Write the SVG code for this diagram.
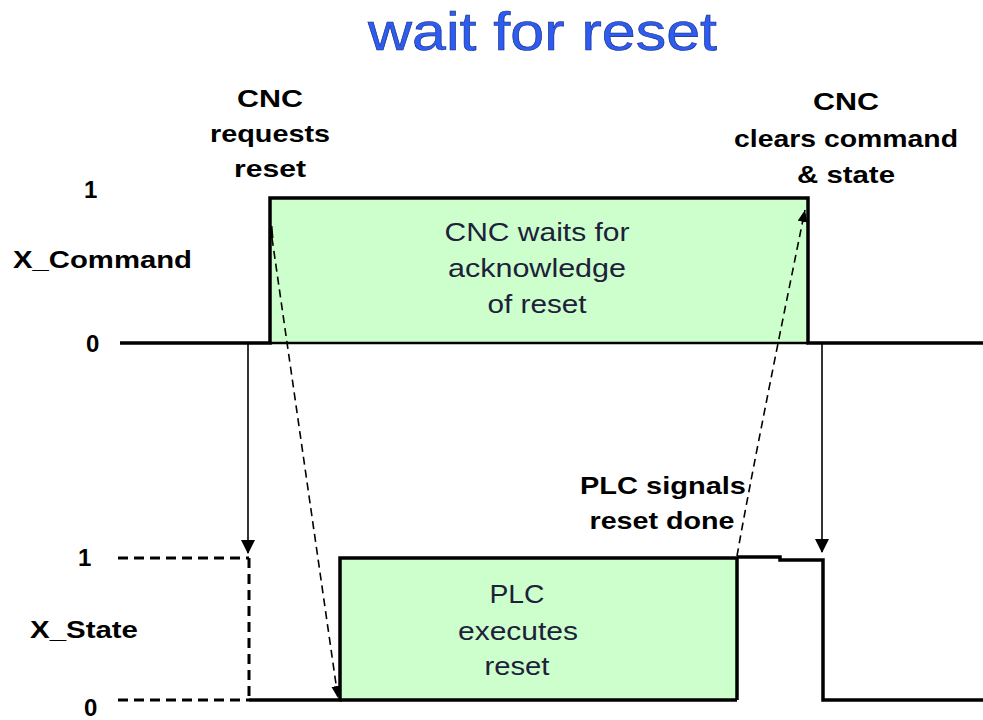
<svg xmlns="http://www.w3.org/2000/svg" width="983" height="720" viewBox="0 0 983 720">
<defs>
<style>
.title{font-family:"Liberation Sans",Arial,sans-serif;font-size:53px;fill:#2d5cf0;stroke:#1a2a80;stroke-width:0.6px}
.lbl{font-family:"Liberation Sans",Arial,sans-serif;font-size:24px;font-weight:bold;fill:#000}
.box{font-family:"Liberation Sans",Arial,sans-serif;font-size:26px;fill:#20203a}
.wave{fill:none;stroke:#000;stroke-width:3.5;stroke-linejoin:miter}
.fill{fill:#ccffcc;stroke:none}
.lvl{fill:none;stroke:#000;stroke-width:3;stroke-dasharray:10 6}
.arr{fill:none;stroke:#000;stroke-width:1.6}
.darr{fill:none;stroke:#000;stroke-width:1.6;stroke-dasharray:8 5}
</style>
<marker id="ah" markerUnits="userSpaceOnUse" markerWidth="14" markerHeight="14" viewBox="0 0 14 14" refX="13" refY="7" orient="auto">
<path d="M0,0 L14,7 L0,14 Z" fill="#000"/>
</marker>
<marker id="ahs" markerUnits="userSpaceOnUse" markerWidth="12" markerHeight="10" viewBox="0 0 12 10" refX="12" refY="5" orient="auto">
<path d="M0,0 L12,5 L0,10 Z" fill="#000"/>
</marker>
</defs>
<rect width="983" height="720" fill="#fff"/>

<g id="title">
<text class="title" x="368" y="50" textLength="349" lengthAdjust="spacingAndGlyphs">wait for reset</text>
</g>

<g id="axis-labels">
<text class="lbl" x="84" y="198">1</text>
<text class="lbl" x="13" y="268" textLength="179" lengthAdjust="spacingAndGlyphs">X_Command</text>
<text class="lbl" x="86" y="352">0</text>
<text class="lbl" x="78" y="566">1</text>
<text class="lbl" x="30" y="638" textLength="108" lengthAdjust="spacingAndGlyphs">X_State</text>
<text class="lbl" x="84" y="716">0</text>
</g>

<g id="x-command-wave">
<rect class="fill" x="270" y="198" width="538" height="145"/>
<path class="wave" d="M120,343 L270,343 L270,198 L808,198 L808,343 L983,343"/>
<line x1="270" y1="343" x2="808" y2="343" stroke="#000" stroke-width="2.5"/>
</g>

<g id="x-state-wave">
<rect class="fill" x="340" y="558" width="397" height="142"/>
<path class="wave" d="M249,700 L340,700 L340,558 L737,558 L737,700"/>
<path class="wave" d="M737,557 L780,557 L780,560 L823,560 L823,700 L983,700"/>
<line x1="340" y1="700" x2="737" y2="700" stroke="#000" stroke-width="3.5"/>
<path class="lvl" d="M118,558 L249,558"/>
<path class="lvl" d="M118,700 L249,700"/>
<path class="lvl" d="M249,558 L249,700"/>
</g>

<g id="box-cnc-waits">
<text class="box" text-anchor="middle" x="537" y="241" textLength="185" lengthAdjust="spacingAndGlyphs">CNC waits for</text>
<text class="box" text-anchor="middle" x="537" y="277" textLength="178" lengthAdjust="spacingAndGlyphs">acknowledge</text>
<text class="box" text-anchor="middle" x="537" y="313" textLength="99" lengthAdjust="spacingAndGlyphs">of reset</text>
</g>

<g id="box-plc-executes">
<text class="box" text-anchor="middle" x="517" y="603" textLength="55" lengthAdjust="spacingAndGlyphs">PLC</text>
<text class="box" text-anchor="middle" x="518" y="640" textLength="120" lengthAdjust="spacingAndGlyphs">executes</text>
<text class="box" text-anchor="middle" x="517" y="675" textLength="65" lengthAdjust="spacingAndGlyphs">reset</text>
</g>

<g id="label-cnc-requests">
<text class="lbl" text-anchor="middle" x="270" y="107" textLength="66" lengthAdjust="spacingAndGlyphs">CNC</text>
<text class="lbl" text-anchor="middle" x="270" y="142" textLength="120" lengthAdjust="spacingAndGlyphs">requests</text>
<text class="lbl" text-anchor="middle" x="270" y="177" textLength="72" lengthAdjust="spacingAndGlyphs">reset</text>
</g>

<g id="label-cnc-clears">
<text class="lbl" text-anchor="middle" x="846" y="110" textLength="66" lengthAdjust="spacingAndGlyphs">CNC</text>
<text class="lbl" text-anchor="middle" x="846" y="147" textLength="224" lengthAdjust="spacingAndGlyphs">clears command</text>
<text class="lbl" text-anchor="middle" x="846" y="183" textLength="98" lengthAdjust="spacingAndGlyphs">&amp; state</text>
</g>

<g id="label-plc-signals">
<text class="lbl" text-anchor="middle" x="663" y="494" textLength="166" lengthAdjust="spacingAndGlyphs">PLC signals</text>
<text class="lbl" text-anchor="middle" x="662" y="529" textLength="145" lengthAdjust="spacingAndGlyphs">reset done</text>
</g>

<g id="connectors">
<line class="arr" x1="248" y1="343" x2="248" y2="553" marker-end="url(#ah)"/>
<line class="arr" x1="822" y1="343" x2="822" y2="552" marker-end="url(#ah)"/>
<line x1="271" y1="226" x2="272" y2="238" stroke="#000" stroke-width="3"/>
<path class="darr" d="M272,238 L338,698" marker-end="url(#ahs)"/>
<path class="darr" d="M737,556 Q752,470 805,210" marker-end="url(#ahs)"/>
</g>
</svg>
